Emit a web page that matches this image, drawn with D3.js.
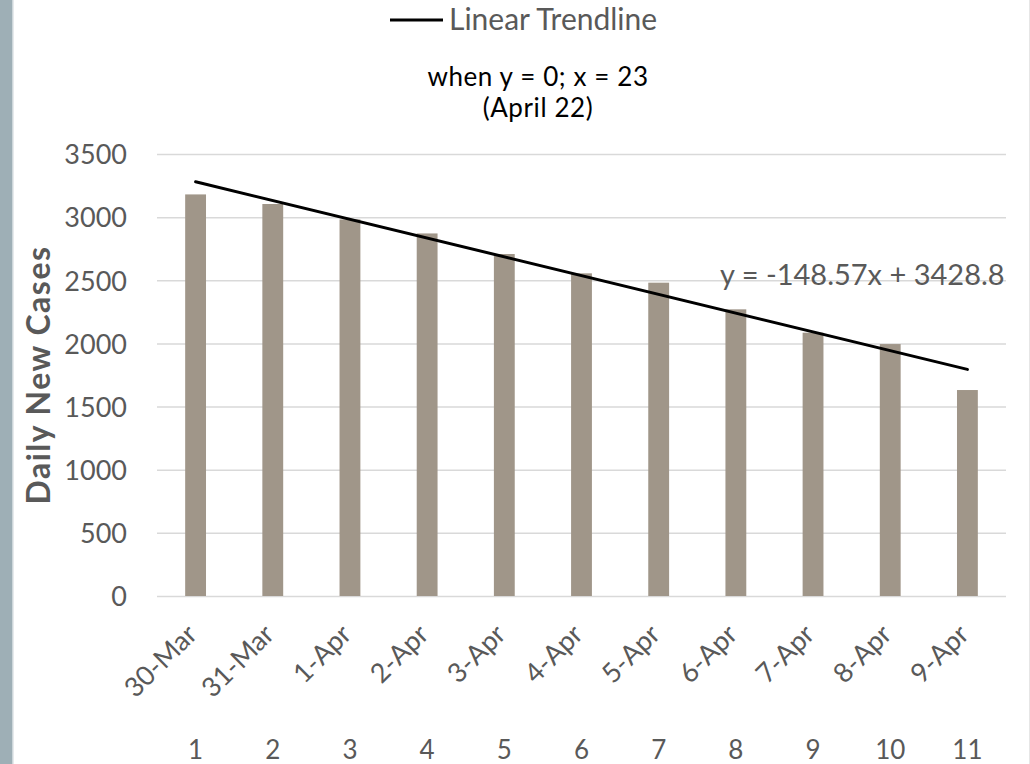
<!DOCTYPE html>
<html>
<head>
<meta charset="utf-8">
<script src="https://cdn.jsdelivr.net/npm/d3@7/dist/d3.min.js"></script>
<style>
  html, body { margin: 0; padding: 0; background: #ffffff; }
  svg { display: block; }
  text { font-family: Lato, "Open Sans", sans-serif; }
</style>
</head>
<body>
<svg id="chart" width="1030" height="764"></svg>
<script>
// ---- data ----
const categories = ["30-Mar", "31-Mar", "1-Apr", "2-Apr", "3-Apr", "4-Apr", "5-Apr", "6-Apr", "7-Apr", "8-Apr", "9-Apr"];
const dayNumbers = [1, 2, 3, 4, 5, 6, 7, 8, 9, 10, 11];
const dailyNewCases = [3180, 3104, 2982, 2871, 2708, 2555, 2481, 2270, 2085, 1995, 1631];
const yTicks = [0, 500, 1000, 1500, 2000, 2500, 3000, 3500];
const trendSlope = -148.57;
const trendIntercept = 3428.8;
const legendLabel = "Linear Trendline";
const noteLines = ["when y = 0; x = 23", "(April 22)"];
const equationLabel = "y = -148.57x + 3428.8";
const yAxisTitle = "Daily New Cases";

// ---- layout ----
const svg = d3.select("#chart");
const plot = { left: 157, right: 1006, top: 154, bottom: 596 };
const textGray = "#595959";

// left side strip
svg.append("rect").attr("x", 0).attr("y", 0).attr("width", 12).attr("height", 764).attr("fill", "#9eafb6");
svg.append("rect").attr("x", 12).attr("y", 0).attr("width", 1.5).attr("height", 764).attr("fill", "#cdd6da");
// right faint edge
svg.append("rect").attr("x", 1029).attr("y", 0).attr("width", 1).attr("height", 764).attr("fill", "#e6e6e6");

const x = d3.scaleBand()
  .domain(categories)
  .range([plot.left, plot.right])
  .paddingInner(0.73)
  .paddingOuter(0.365);

const y = d3.scaleLinear()
  .domain([0, 3500])
  .range([plot.bottom, plot.top]);

// gridlines + y labels via axis
const yAxis = d3.axisLeft(y)
  .tickValues(yTicks)
  .tickSize(-(plot.right - plot.left))
  .tickPadding(30)
  .tickFormat(d3.format("d"));

const gy = svg.append("g")
  .attr("transform", `translate(${plot.left},0)`)
  .call(yAxis);
gy.select(".domain").remove();
gy.selectAll(".tick line").attr("stroke", "#d9d9d9").attr("stroke-width", 1.5);
gy.selectAll(".tick text")
  .attr("fill", textGray)
  .attr("font-size", 27)
  .attr("dy", "0.36em");

// bars
svg.append("g").selectAll("rect")
  .data(dailyNewCases)
  .join("rect")
  .attr("x", (d, i) => x(categories[i]))
  .attr("y", d => y(d))
  .attr("width", x.bandwidth())
  .attr("height", d => y(0) - y(d))
  .attr("fill", "#a09689");

// trendline
const cx = c => x(c) + x.bandwidth() / 2;
const trendEnds = [dayNumbers[0], dayNumbers[dayNumbers.length - 1]];
svg.append("path")
  .datum(trendEnds)
  .attr("d", d3.line()
      .x(v => cx(categories[v - 1]))
      .y(v => y(trendSlope * v + trendIntercept)))
  .attr("fill", "none")
  .attr("stroke", "#000")
  .attr("stroke-width", 3)
  .attr("stroke-linecap", "round");

// x category labels (rotated)
svg.append("g").selectAll("text")
  .data(categories)
  .join("text")
  .attr("transform", d => `translate(${cx(d) + 3},${plot.bottom + 40}) rotate(-45)`)
  .attr("text-anchor", "end")
  .attr("fill", textGray)
  .attr("font-size", 27)
  .text(d => d);

// day numbers row
svg.append("g").selectAll("text")
  .data(dayNumbers)
  .join("text")
  .attr("x", (d, i) => cx(categories[i]))
  .attr("y", 759)
  .attr("text-anchor", "middle")
  .attr("fill", textGray)
  .attr("font-size", 26)
  .text(d => d);

// y axis title
svg.append("text")
  .attr("transform", `translate(50,${(plot.top + plot.bottom) / 2}) rotate(-90)`)
  .attr("text-anchor", "middle")
  .attr("fill", textGray)
  .attr("font-size", 32)
  .attr("font-weight", "bold")
  .attr("letter-spacing", 1.5)
  .text(yAxisTitle);

// legend
svg.append("line")
  .attr("x1", 390).attr("x2", 443).attr("y1", 20).attr("y2", 20)
  .attr("stroke", "#000").attr("stroke-width", 3);
svg.append("text")
  .attr("x", 449).attr("y", 30)
  .attr("fill", textGray)
  .attr("font-size", 30)
  .text(legendLabel);

// note
svg.append("g").selectAll("text")
  .data(noteLines)
  .join("text")
  .attr("x", 538)
  .attr("y", (d, i) => 86 + i * 31)
  .attr("text-anchor", "middle")
  .attr("fill", "#000")
  .attr("font-size", 26)
  .attr("letter-spacing", 0.6)
  .text(d => d);

// equation label
svg.append("text")
  .attr("x", 720).attr("y", 285)
  .attr("fill", textGray)
  .attr("font-size", 29)
  .text(equationLabel);
</script>
</body>
</html>
